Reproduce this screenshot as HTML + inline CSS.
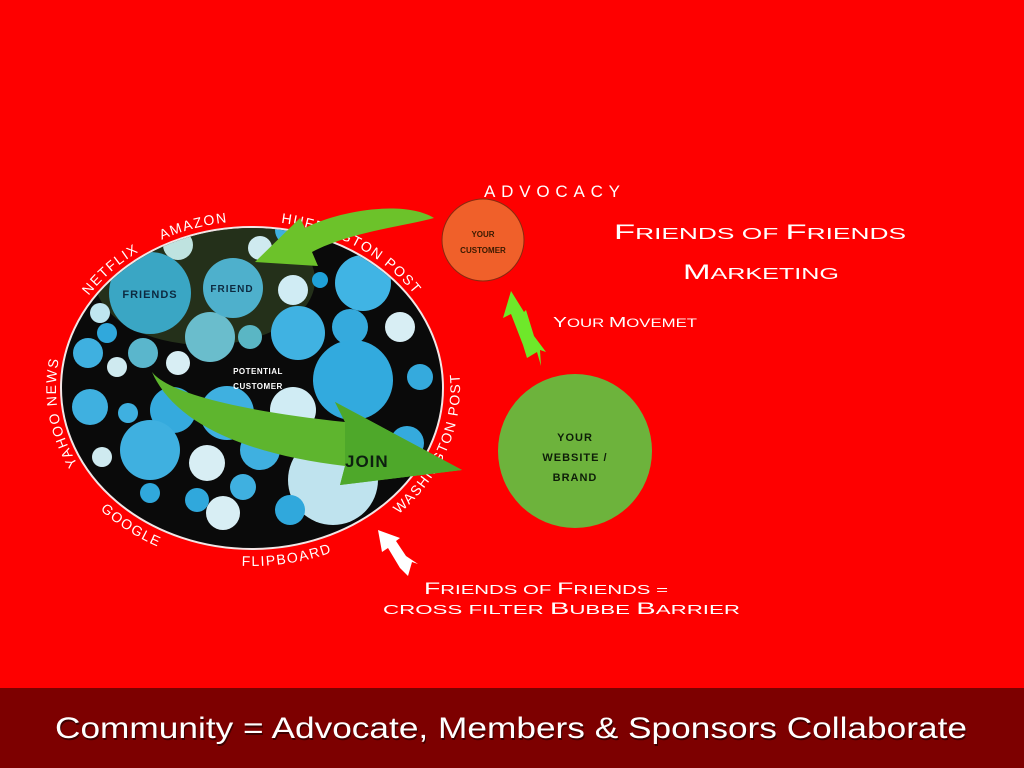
<!DOCTYPE html>
<html><head><meta charset="utf-8"><style>html,body{margin:0;padding:0;background:#fe0000}svg{display:block}</style></head><body>
<svg width="1024" height="768" viewBox="0 0 1024 768" xmlns="http://www.w3.org/2000/svg" font-family="Liberation Sans, sans-serif">
<defs>
<clipPath id="c"><ellipse cx="252" cy="388" rx="190" ry="160"/></clipPath>
<path id="cw" d="M252,555 A196 167 0 0 1 252,221 A196 167 0 0 1 252,555"/>
<path id="ccw" d="M44,388 A208 178 0 0 0 460,388 A208 178 0 0 0 44,388"/>
</defs>
<rect width="1024" height="768" fill="#fe0000"/>
<rect y="688" width="1024" height="80" fill="#7d0000"/>
<text x="512" y="740" fill="#000" opacity="0.5" font-size="30" text-anchor="middle" textLength="912" lengthAdjust="spacingAndGlyphs">Community = Advocate, Members &amp; Sponsors Collaborate</text>
<text x="511" y="738" fill="#fff" font-size="30" text-anchor="middle" textLength="912" lengthAdjust="spacingAndGlyphs">Community = Advocate, Members &amp; Sponsors Collaborate</text>

<ellipse cx="252" cy="388" rx="191" ry="161" fill="#0a0a0a" stroke="#f2e6e6" stroke-width="2"/>
<g clip-path="url(#c)">
<ellipse cx="205" cy="280" rx="110" ry="65" fill="#2a3a1e" opacity="0.8"/>
<circle cx="178" cy="245" r="15" fill="#bfe3e0"/>
<circle cx="260" cy="248" r="12" fill="#cfeaf0"/>
<circle cx="290" cy="230" r="15" fill="#3fb0e0"/>
<circle cx="320" cy="280" r="8" fill="#1fa0d8"/>
<circle cx="293" cy="290" r="15" fill="#d0ecf4"/>
<circle cx="363" cy="283" r="28" fill="#40b4e4"/>
<circle cx="210" cy="337" r="25" fill="#6abdcc"/>
<circle cx="250" cy="337" r="12" fill="#5ab6c4"/>
<circle cx="298" cy="333" r="27" fill="#40b2e2"/>
<circle cx="350" cy="327" r="18" fill="#35aadd"/>
<circle cx="400" cy="327" r="15" fill="#d8eef4"/>
<circle cx="100" cy="313" r="10" fill="#bfe6f0"/>
<circle cx="107" cy="333" r="10" fill="#30a8dc"/>
<circle cx="88" cy="353" r="15" fill="#3fb0e0"/>
<circle cx="117" cy="367" r="10" fill="#cfeaf0"/>
<circle cx="143" cy="353" r="15" fill="#5ab6cc"/>
<circle cx="178" cy="363" r="12" fill="#d8eef4"/>
<circle cx="353" cy="380" r="40" fill="#32aade"/>
<circle cx="420" cy="377" r="13" fill="#35aadd"/>
<circle cx="90" cy="407" r="18" fill="#3fb0e0"/>
<circle cx="128" cy="413" r="10" fill="#3fb0e0"/>
<circle cx="173" cy="410" r="23" fill="#35aadd"/>
<circle cx="227" cy="413" r="27" fill="#3fb0e0"/>
<circle cx="293" cy="410" r="23" fill="#d0ecf4"/>
<circle cx="407" cy="443" r="17" fill="#35aadd"/>
<circle cx="150" cy="450" r="30" fill="#3fb0e0"/>
<circle cx="102" cy="457" r="10" fill="#cfeaf0"/>
<circle cx="207" cy="463" r="18" fill="#d8eef4"/>
<circle cx="243" cy="487" r="13" fill="#3fb0e0"/>
<circle cx="197" cy="500" r="12" fill="#30a8dc"/>
<circle cx="150" cy="493" r="10" fill="#30a8dc"/>
<circle cx="260" cy="450" r="20" fill="#3fb0e0"/>
<circle cx="333" cy="480" r="45" fill="#bfe3ee"/>
<circle cx="223" cy="513" r="17" fill="#d8eef4"/>
<circle cx="290" cy="510" r="15" fill="#30a8dc"/>
<circle cx="150" cy="293" r="41" fill="#3aa6c4"/>
<circle cx="233" cy="288" r="30" fill="#4eb0cc"/>
</g>
<text x="150" y="298" font-size="11" font-weight="bold" fill="#0d2a40" text-anchor="middle" letter-spacing="1">FRIENDS</text>
<text x="232" y="292" font-size="10" font-weight="bold" fill="#0d2a40" text-anchor="middle" letter-spacing="1">FRIEND</text>
<text x="258" y="374" font-size="8" font-weight="bold" fill="#fff" text-anchor="middle" letter-spacing="0.5">POTENTIAL</text>
<text x="258" y="389" font-size="8" font-weight="bold" fill="#fff" text-anchor="middle" letter-spacing="0.5">CUSTOMER</text>

<g fill="#fff" font-size="14" letter-spacing="1.5">
<text><textPath href="#cw" startOffset="205">YAHOO NEWS</textPath></text>
<text><textPath href="#cw" startOffset="385">NETFLIX</textPath></text>
<text><textPath href="#cw" startOffset="478">AMAZON</textPath></text>
<text><textPath href="#cw" startOffset="600">HUFFINGTON POST</textPath></text>
<text><textPath href="#ccw" startOffset="138">GOOGLE</textPath></text>
<text><textPath href="#ccw" startOffset="293">FLIPBOARD</textPath></text>
<text><textPath href="#ccw" startOffset="462">WASHINGTON POST</textPath></text>
</g>

<path d="M434 218 C 405 200, 340 210, 305 228 L 300 218 L 255 262 L 318 266 L 312 252 C 350 232, 405 226, 434 218 Z" fill="#6cc22a"/>
<path d="M152 372 C 170 395, 250 412, 345 422 L 335 402 L 462 470 L 340 485 L 345 466 C 250 455, 175 425, 152 372 Z" fill="#5eb52e"/>
<path d="M345 422 L 335 402 L 462 470 L 340 485 L 345 466 Z" fill="#4ea82a"/>
<text x="345" y="467" font-size="17" font-weight="bold" fill="#0d2010" letter-spacing="1">JOIN</text>

<circle cx="483" cy="240" r="41" fill="#f0602a" stroke="#8a2a10" stroke-width="1"/>
<text x="483" y="237" font-size="8" font-weight="bold" fill="#3a1a00" text-anchor="middle">YOUR</text>
<text x="483" y="253" font-size="8" font-weight="bold" fill="#3a1a00" text-anchor="middle">CUSTOMER</text>

<circle cx="575" cy="451" r="77" fill="#6db33c"/>
<text x="575" y="441" font-size="11" font-weight="bold" fill="#0e1e08" text-anchor="middle" letter-spacing="1">YOUR</text>
<text x="575" y="461" font-size="11" font-weight="bold" fill="#0e1e08" text-anchor="middle" letter-spacing="1">WEBSITE /</text>
<text x="575" y="481" font-size="11" font-weight="bold" fill="#0e1e08" text-anchor="middle" letter-spacing="1">BRAND</text>

<path d="M511 291 L 503 318 L 511 314 L 523 345 L 527 358 L 537 352 L 541 366 L 540 350 L 546 352 L 534 336 L 526 310 L 524 312 Z" fill="#6ee82a"/>
<path d="M378 530 L 382 552 L 388 548 L 400 568 L 408 576 L 412 562 L 418 564 L 406 556 L 396 541 L 400 538 Z" fill="#fff"/>

<g fill="#fff" font-variant="small-caps">
<text x="484" y="197" font-size="17" letter-spacing="2" textLength="138">ADVOCACY</text>
<text x="614" y="239" font-size="21" textLength="292" lengthAdjust="spacingAndGlyphs">F<tspan font-size="16">RIENDS OF </tspan>F<tspan font-size="16">RIENDS</tspan></text>
<text x="683" y="279" font-size="21" textLength="156" lengthAdjust="spacingAndGlyphs">M<tspan font-size="16">ARKETING</tspan></text>
<text x="553" y="327" font-size="15" textLength="144" lengthAdjust="spacingAndGlyphs">Y<tspan font-size="12">OUR </tspan>M<tspan font-size="12">OVEMET</tspan></text>
<text x="424" y="594" font-size="17" textLength="244" lengthAdjust="spacingAndGlyphs">F<tspan font-size="13">RIENDS OF </tspan>F<tspan font-size="13">RIENDS =</tspan></text>
<text x="383" y="614" font-size="13" textLength="357" lengthAdjust="spacingAndGlyphs">CROSS FILTER <tspan font-size="17">B</tspan>UBBE <tspan font-size="17">B</tspan>ARRIER</text>
</g>
</svg>
</body></html>
